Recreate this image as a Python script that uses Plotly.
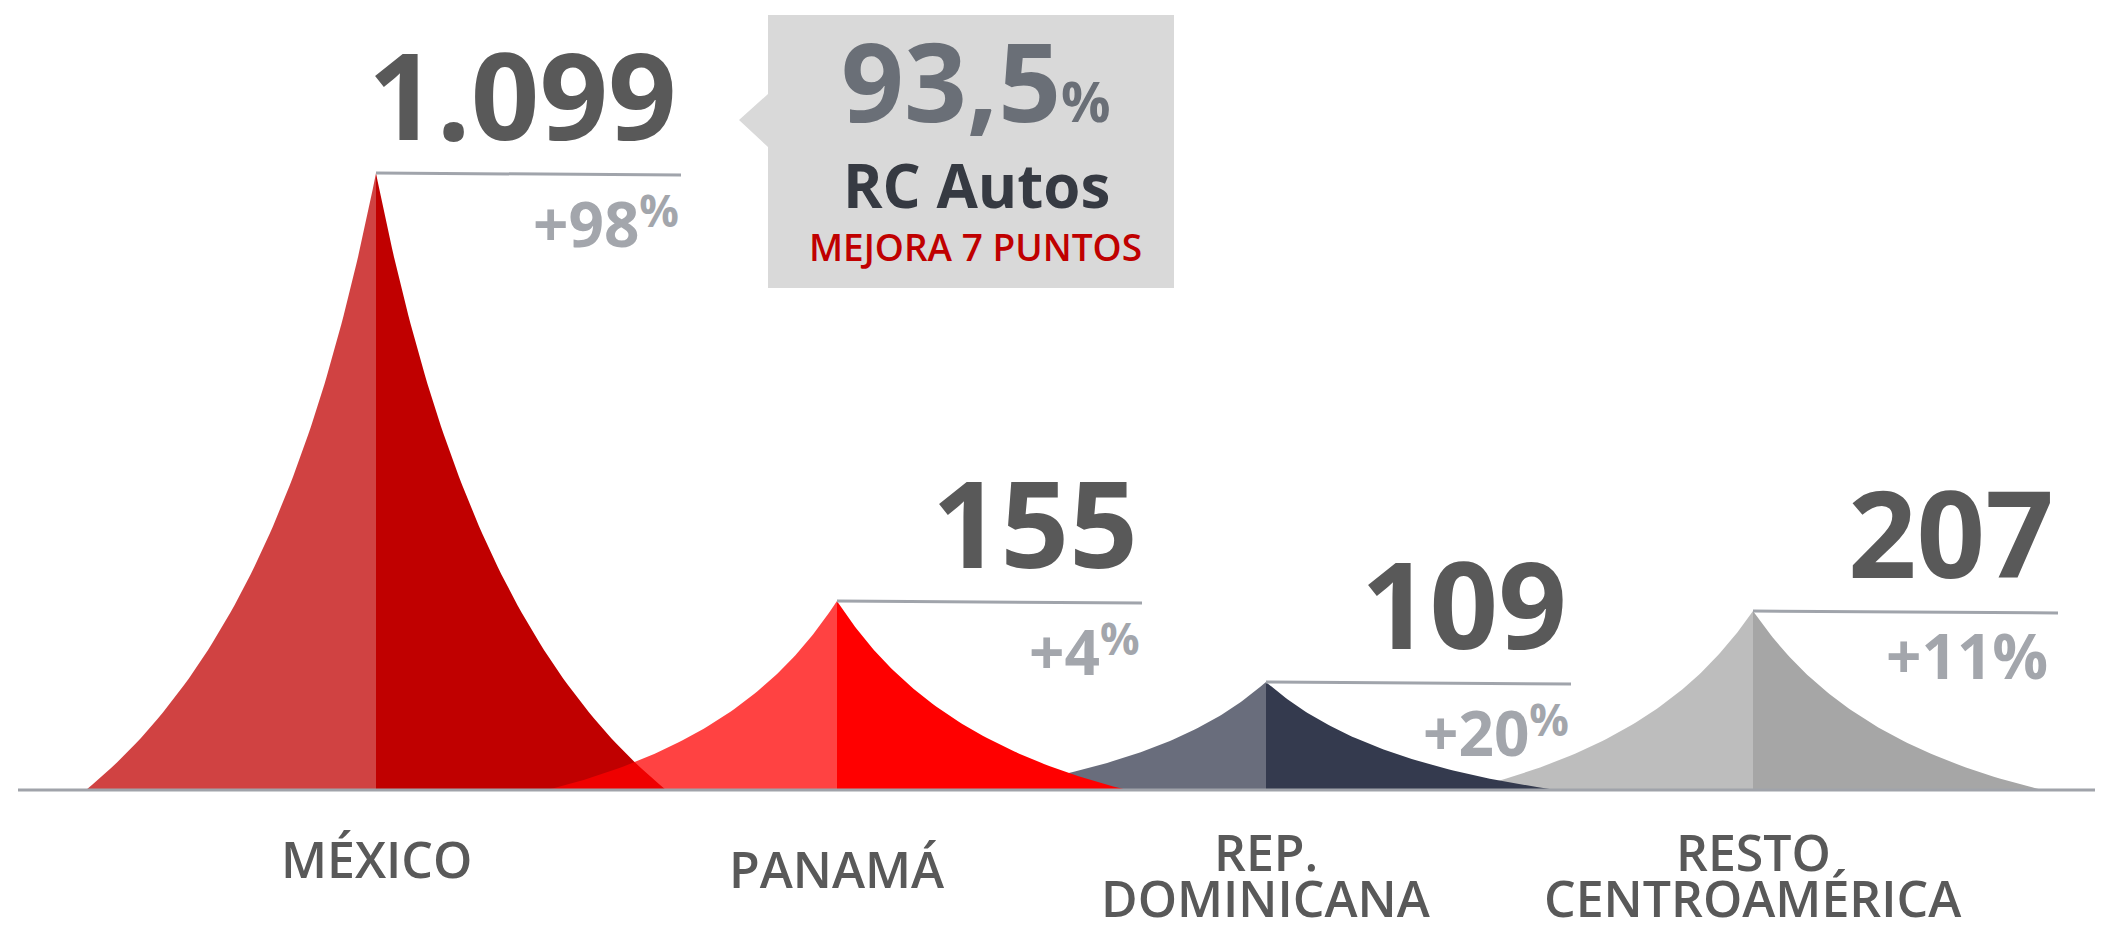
import plotly.graph_objects as go

# ---------------- data ----------------
categories = ["MÉXICO", "PANAMÁ", "REP. DOMINICANA", "RESTO CENTROAMÉRICA"]
label_lines = [["MÉXICO"], ["PANAMÁ"], ["REP.", "DOMINICANA"], ["RESTO", "CENTROAMÉRICA"]]
values = [1099, 155, 109, 207]
growth_pct = [98, 4, 20, 11]
# drawn peak heights of the (schematic, non-proportional) peaks
peak_heights = [617, 189, 108, 179]

callout_value = "93,5"
callout_title = "RC Autos"
callout_note = "MEJORA 7 PUNTOS"

# ---------------- layout / style constants ----------------
W, H = 2101, 932
BASE_Y = 790                      # pixel row of the baseline
SLOT_X = [376, 837, 1266, 1753]   # horizontal slot of each category
HALF_W = 290
LEAD_LEN = 305
FONT = "Open Sans"
right_colors = [(192, 0, 0), (255, 0, 0), (52, 58, 78), (166, 166, 166)]
LEFT_ALPHA = 0.74
pct_superscript = [True, True, True, False]
label_baselines = [[878], [888], [871, 917], [871, 917]]
draw_order = [3, 2, 0, 1]


def py(pix_y):
    """pixel row -> data y"""
    return BASE_Y - pix_y


def bezier_profile(n=80):
    p0, p1, p2, p3 = (1.0, 0.0), (0.40, 0.23), (0.15, 0.6475), (0.0, 1.0)
    pts = []
    for i in range(n + 1):
        s = i / n
        a, b, c, d = (1 - s) ** 3, 3 * (1 - s) ** 2 * s, 3 * (1 - s) * s ** 2, s ** 3
        u = a * p0[0] + b * p1[0] + c * p2[0] + d * p3[0]
        t = a * p0[1] + b * p1[1] + c * p2[1] + d * p3[1]
        pts.append((u, t))
    return pts


prof = bezier_profile()
fig = go.Figure()

for i in draw_order:
    cx, h = SLOT_X[i], peak_heights[i]
    r, g, b = right_colors[i]
    # left (lighter) half
    lx = [cx] + [cx - u * HALF_W for u, t in prof] + [cx]
    ly = [0] + [t * h for u, t in prof] + [0]
    fig.add_trace(go.Scatter(x=lx, y=ly, mode="lines", fill="toself",
                             fillcolor=f"rgba({r},{g},{b},{LEFT_ALPHA})",
                             line=dict(width=0, color="rgba(0,0,0,0)"),
                             hoverinfo="skip", showlegend=False))
    # right (solid) half
    rx = [cx] + [cx + u * HALF_W for u, t in reversed(prof)] + [cx]
    ry = [0] + [t * h for u, t in reversed(prof)] + [0]
    fig.add_trace(go.Scatter(x=rx, y=ry, mode="lines", fill="toself",
                             fillcolor=f"rgb({r},{g},{b})",
                             line=dict(width=0, color="rgba(0,0,0,0)"),
                             hoverinfo="skip", showlegend=False))

# leader lines
for i in range(len(categories)):
    cx, h = SLOT_X[i], peak_heights[i]
    fig.add_trace(go.Scatter(x=[cx, cx + LEAD_LEN], y=[h, h - 2], mode="lines",
                             line=dict(color="#A0A4AB", width=3),
                             hoverinfo="skip", showlegend=False))

# baseline
fig.add_shape(type="line", x0=18, x1=2095, y0=0, y1=0, xref="x", yref="y",
              line=dict(color="#A0A3AA", width=3), layer="above")

K = 0.388  # baseline offset from text-box middle (em)
annos = []


def anno(x, baseline_pix, text, size, color, weight=400, xanchor="center",
         metric_size=None):
    ms = metric_size or size
    annos.append(dict(x=x, y=py(baseline_pix - K * ms), xref="x", yref="y",
                      text=text, showarrow=False, xanchor=xanchor, yanchor="middle",
                      font=dict(family=FONT, size=size, color=color, weight=weight)))


PCT_SIZE = 62
PCT_SUP_SIZE = 44
for i in range(len(categories)):
    cx, h = SLOT_X[i], peak_heights[i]
    apex_pix = BASE_Y - h
    val_txt = f"{values[i]:,}".replace(",", ".")
    anno(cx + LEAD_LEN - 2, apex_pix - 33, val_txt, 120, "#595959", 700, "right")
    if pct_superscript[i]:
        ptxt = (f"<span style='font-size:{PCT_SIZE}px'>+{growth_pct[i]}</span>"
                f"<sup><span style='font-size:{PCT_SUP_SIZE}px'>%</span></sup>")
        anno(cx + LEAD_LEN, apex_pix + 74, ptxt, 48, "#A3A6AC", 700, "right",
             metric_size=PCT_SIZE)
    else:
        ptxt = f"+{growth_pct[i]}%"
        anno(cx + LEAD_LEN - 8, apex_pix + 68, ptxt, PCT_SIZE, "#A3A6AC", 700, "right")
    for line, bl in zip(label_lines[i], label_baselines[i]):
        anno(cx, bl, line, 50, "#595959", 600, "center")

# callout box with pointer
cb = dict(x0=768, x1=1174, y0=15, y1=288, tip_x=739, tip_y=120, p0=94, p1=147)
path = (f"M {cb['x0']},{py(cb['y0'])} L {cb['x1']},{py(cb['y0'])} "
        f"L {cb['x1']},{py(cb['y1'])} L {cb['x0']},{py(cb['y1'])} "
        f"L {cb['x0']},{py(cb['p1'])} L {cb['tip_x']},{py(cb['tip_y'])} "
        f"L {cb['x0']},{py(cb['p0'])} Z")
fig.add_shape(type="path", path=path, xref="x", yref="y",
              fillcolor="#D9D9D9", line=dict(width=0), layer="below")

anno(976, 122, callout_value + "<span style='font-size:55px'>%</span>", 110, "#6A6F77", 700)
anno(976, 208, callout_title, 60, "#363A42", 700)
anno(975, 261, callout_note, 37, "#C00000", 600)

fig.update_layout(
    width=W, height=H,
    margin=dict(l=0, r=0, t=0, b=0),
    paper_bgcolor="white", plot_bgcolor="white",
    xaxis=dict(range=[0, W], visible=False, fixedrange=True),
    yaxis=dict(range=[py(H), py(0)], visible=False, fixedrange=True),
    annotations=annos,
    showlegend=False,
)

fig.write_html("out.html",
               config={"displayModeBar": False},
               post_script="document.body.style.margin='0px';"
                           "document.body.style.overflow='hidden';")
